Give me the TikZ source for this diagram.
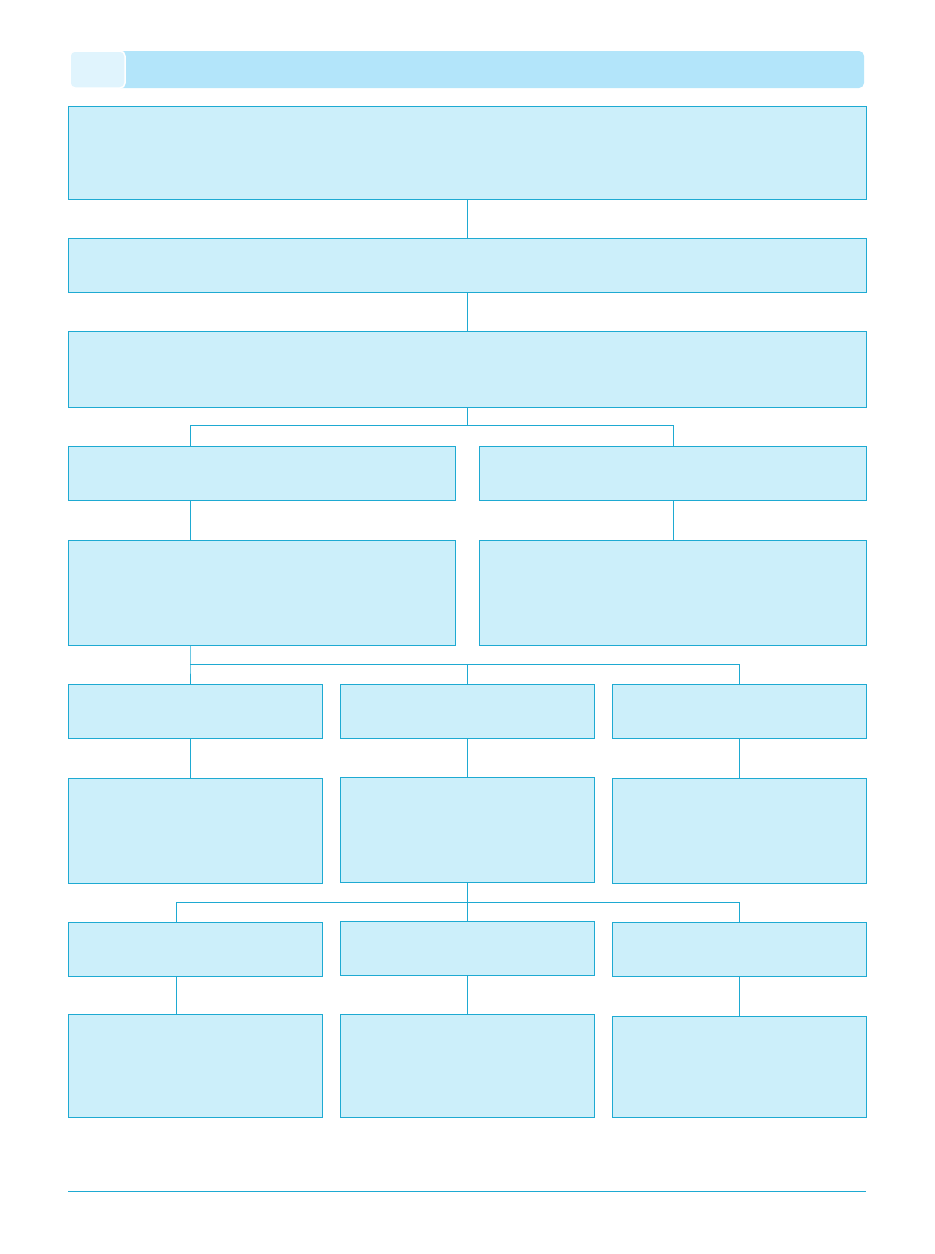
\documentclass[tikz,border=0pt]{standalone}
\usepackage{tikz}
\usetikzlibrary{calc, positioning}

\definecolor{boxblue}{RGB}{204,239,250}
\definecolor{lineblue}{RGB}{30,170,210}
\definecolor{barblue}{RGB}{179,229,250}
\definecolor{tabblue}{RGB}{224,244,253}

\begin{document}
\begin{tikzpicture}[x=1pt, y=-1pt,
    box/.style={draw=lineblue, fill=boxblue, line width=0.8pt, anchor=north west,
                inner sep=0pt, outer sep=0pt, rectangle},
    wide/.style={box, minimum width=798pt},
    half/.style={box, minimum width=387pt},
    third/.style={box, minimum width=254pt},
    link/.style={draw=lineblue, line width=0.8pt}]
    \useasboundingbox (0,0) rectangle (935,1254);

    % Header bar
    \fill[barblue, rounded corners=5pt] (70,51) rectangle (864,88);
    \draw[fill=tabblue, draw=white, line width=1.5pt, rounded corners=5pt] (70,51) rectangle (125,88);

    % Top boxes
    \node[wide, minimum height=93pt] (b1) at (68,106) {};
    \node[wide, minimum height=54pt] (b2) at (68,238) {};
    \node[wide, minimum height=76pt] (b3) at (68,331) {};

    % Two columns
    \node[half, minimum height=54pt] (b4l) at (68,446) {};
    \node[half, minimum height=54pt] (b4r) at (479,446) {};
    \node[half, minimum height=105pt] (b5l) at (68,540) {};
    \node[half, minimum height=105pt] (b5r) at (479,540) {};

    % Three columns
    \node[third, minimum height=54pt] (b6l) at (68,684) {};
    \node[third, minimum height=54pt] (b6m) at (340,684) {};
    \node[third, minimum height=54pt] (b6r) at (612,684) {};
    \node[third, minimum height=105pt] (b7l) at (68,778) {};
    \node[third, minimum height=105pt] (b7m) at (340,777) {};
    \node[third, minimum height=105pt] (b7r) at (612,778) {};
    \node[third, minimum height=54pt] (b8l) at (68,922) {};
    \node[third, minimum height=54pt] (b8m) at (340,921) {};
    \node[third, minimum height=54pt] (b8r) at (612,922) {};
    \node[third, minimum height=103pt] (b9l) at (68,1014) {};
    \node[third, minimum height=103pt] (b9m) at (340,1014) {};
    \node[third, minimum height=101pt] (b9r) at (612,1016) {};

    % Define points
    \coordinate (J1) at (467,425);
    \coordinate (L) at (190,0);
    \coordinate (R) at (673,0);
    \coordinate (J2) at (190,664);
    \coordinate (M) at (467,0);
    \coordinate (N) at (739,0);
    \coordinate (J3) at (467,902);
    \coordinate (K) at (176,0);

    % Connectors
    \draw[link] (b1.south) -- (b2.north);
    \draw[link] (b2.south) -- (b3.north);
    \draw[link] (b3.south) -- (J1) -- (J1 -| L) -- (b4l.north -| L);
    \draw[link] (J1) -- (J1 -| R) -- (b4r.north -| R);
    \draw[link] (b4l.south -| L) -- (b5l.north -| L);
    \draw[link] (b4r.south -| R) -- (b5r.north -| R);
    \draw[link] (b5l.south -| L) -- (J2) -- (b6l.north -| L);
    \draw[link] (J2) -- (J2 -| N) -- (b6r.north -| N);
    \draw[link] (J2 -| M) -- (b6m.north);
    \draw[link] (b6l.south -| L) -- (b7l.north -| L);
    \draw[link] (b6m.south) -- (b7m.north);
    \draw[link] (b6r.south -| N) -- (b7r.north -| N);
    \draw[link] (b7m.south) -- (J3) -- (J3 -| K) -- (b8l.north -| K);
    \draw[link] (J3) -- (J3 -| N) -- (b8r.north -| N);
    \draw[link] (J3) -- (b8m.north);
    \draw[link] (b8l.south -| K) -- (b9l.north -| K);
    \draw[link] (b8m.south) -- (b9m.north);
    \draw[link] (b8r.south -| N) -- (b9r.north -| N);

    % Bottom rule
    \draw[link] (68,1191) -- (866,1191);
\end{tikzpicture}
\end{document}
